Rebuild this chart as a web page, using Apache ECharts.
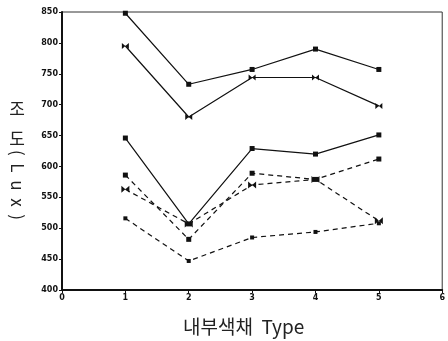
<!DOCTYPE html>
<html>
<head>
<meta charset="utf-8">
<script src="https://cdn.jsdelivr.net/npm/echarts@6/dist/echarts.min.js"></script>
<style>
  html, body { margin: 0; padding: 0; background: #fff; }
  #chart { width: 448px; height: 341px; }
</style>
</head>
<body>
<div id="chart"></div>
<script>
// Interior colour type on the x axis, illuminance (Lux) on the y axis
const types = [1, 2, 3, 4, 5];
const yTicks = [400, 450, 500, 550, 600, 650, 700, 750, 800, 850];
const xTicks = [0, 1, 2, 3, 4, 5, 6];

// Solid-line series
const solidA = [848, 733, 757, 790, 757];
const solidB = [795, 680, 744, 744, 698];
const solidC = [646, 507, 629, 620, 651];
// Dashed-line series
const dashD = [586, 482, 589, 579, 612];
const dashE = [563, 507, 570, 579, 512];
const dashF = [516, 447, 485, 494, 508];

const bowtie = 'path://M0,0L5,5L0,10Z M10,0L5,5L10,10Z';

function pairs(vals) { return vals.map((v, i) => [types[i], v]); }

function line(name, vals, dashed, symbol, size) {
  return {
    name: name,
    type: 'line',
    data: pairs(vals),
    symbol: symbol,
    symbolSize: size,
    showSymbol: true,
    lineStyle: { color: '#111', width: 1.2, type: dashed ? [5, 4] : 'solid' },
    itemStyle: { color: '#111' },
    silent: true,
    z: 3
  };
}

const titleFont = '17px "Noto Sans CJK KR"';

const chart = echarts.init(document.getElementById('chart'), null, { renderer: 'canvas' });
chart.setOption({
  animation: false,
  backgroundColor: '#fff',
  grid: { left: 62, right: 3, top: 12, bottom: 51, show: true, borderColor: '#333', borderWidth: 1 },
  xAxis: {
    type: 'value',
    min: xTicks[0],
    max: xTicks[xTicks.length - 1],
    interval: 1,
    axisLine: { show: true, onZero: false, lineStyle: { color: '#111', width: 2 } },
    axisTick: { show: true, inside: false, length: 3, lineStyle: { color: '#111' } },
    axisLabel: { color: '#111', fontSize: 8, fontWeight: 'bold', fontFamily: 'DejaVu Sans', margin: 4,
      formatter: v => xTicks.includes(v) ? String(v) : '' },
    splitLine: { show: false }
  },
  yAxis: {
    type: 'value',
    min: yTicks[0],
    max: yTicks[yTicks.length - 1],
    interval: 50,
    axisLine: { show: true, onZero: false, lineStyle: { color: '#111', width: 2 } },
    axisTick: { show: true, inside: false, length: 3, lineStyle: { color: '#111' } },
    axisLabel: { color: '#111', fontSize: 8, fontWeight: 'bold', fontFamily: 'DejaVu Sans', margin: 4,
      formatter: v => yTicks.includes(v) ? String(v) : '' },
    splitLine: { show: false }
  },
  graphic: [
    { type: 'text', x: 183, y: 327,
      style: { text: '내부색채  Type', font: '19px "Noto Sans CJK KR"', fill: '#222',
        textAlign: 'left', textVerticalAlign: 'middle' } },
    { type: 'text', x: 17, y: 109,
      style: { text: '조', font: titleFont, fill: '#222', textAlign: 'center', textVerticalAlign: 'middle' } },
    { type: 'text', x: 17, y: 139,
      style: { text: '도', font: titleFont, fill: '#222', textAlign: 'center', textVerticalAlign: 'middle' } },
    { type: 'text', x: 17, y: 150, rotation: -Math.PI / 2,
      style: { text: '(  L  u  x  )', font: titleFont, fill: '#222', textAlign: 'left', textVerticalAlign: 'middle' } }
  ],
  series: [
    line('A', solidA, false, 'rect', 5),
    line('B', solidB, false, bowtie, [7, 6]),
    line('C', solidC, false, 'rect', 5),
    line('D', dashD, true, 'rect', 5),
    line('E', dashE, true, bowtie, [8, 7]),
    line('F', dashF, true, 'rect', 4)
  ]
});
</script>
</body>
</html>
